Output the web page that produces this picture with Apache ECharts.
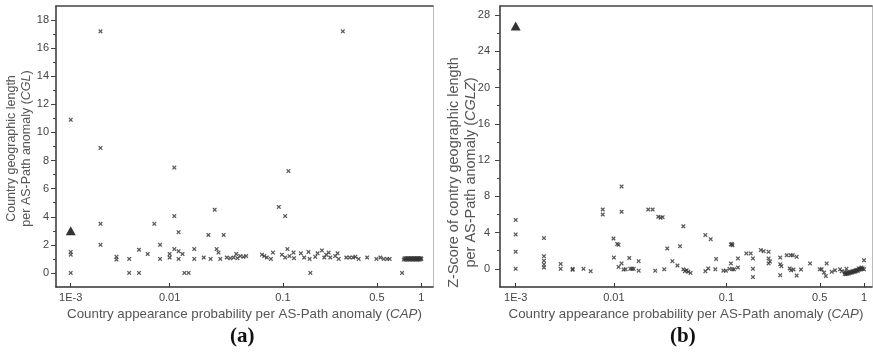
<!DOCTYPE html>
<html><head><meta charset="utf-8">
<script src="https://cdn.jsdelivr.net/npm/echarts@6/dist/echarts.min.js"></script>
<style>html,body{margin:0;padding:0;background:#fff}#c{width:873px;height:353px}</style>
</head><body><div id="c"></div>
<script>
// ---- data ----
const capTicks = [0.001, 0.01, 0.1, 0.5, 1];
const capTickLabels = ['1E-3', '0.01', '0.1', '0.5', '1'];
const cglTicks = [0, 2, 4, 6, 8, 10, 12, 14, 16, 18];
const cglMinor = [1, 3, 5, 7, 9, 11, 13, 15, 17];
const cglzTicks = [0, 4, 8, 12, 16, 20, 24, 28];
const cglzMinor = [2, 6, 10, 14, 18, 22, 26];

// (a) CAP vs CGL
const cglCross = [
  [0.001,10.9],[0.001,1.3],[0.001,1.5],[0.001,0],
  [0.002,17.2],[0.002,8.9],[0.002,3.5],[0.002,2.0],
  [0.0029,1.15],[0.0029,0.95],
  [0.0039,1.0],[0.0039,0],
  [0.0049,1.65],[0.0049,0],
  [0.006,1.35],[0.007,3.5],
  [0.008,2.0],[0.008,1.0],
  [0.01,1.35],[0.01,1.1],
  [0.011,7.5],[0.011,4.05],[0.011,1.7],
  [0.012,2.9],[0.012,1.55],[0.012,1.0],
  [0.013,1.35],[0.0135,0],[0.0147,0],
  [0.0165,1.7],[0.0165,1.0],
  [0.02,1.1],[0.022,2.7],[0.023,1.0],
  [0.025,4.5],[0.026,1.7],[0.027,1.45],[0.028,1.0],
  [0.03,2.7],[0.032,1.1],
  [0.0343,1.05],[0.0367,1.1],[0.0387,1.35],[0.0397,1.05],[0.042,1.2],[0.0449,1.15],[0.0474,1.2],
  [0.0653,1.3],[0.0685,1.2],[0.0722,1.1],[0.0784,1.0],[0.0817,1.45],
  [0.092,4.7],[0.098,1.3],[0.104,4.05],[0.104,1.1],[0.108,1.7],[0.11,7.25],[0.112,1.2],[0.12,1.45],[0.121,1.05],
  [0.136,1.4],[0.144,1.1],[0.155,1.5],[0.158,1.0],[0.16,0],
  [0.174,1.15],[0.181,1.4],
  [0.195,1.6],[0.203,1.1],[0.21,1.3],[0.219,1.45],[0.225,1.1],
  [0.245,1.2],[0.255,1.4],[0.26,1.0],
  [0.279,17.2],
  [0.296,1.1],[0.314,1.1],[0.333,1.1],[0.346,1.15],[0.366,1.0],
  [0.423,1.1],
  [0.496,1.0],[0.528,1.1],[0.556,1.0],[0.586,1.0],[0.61,1.0],
  [0.74,0],
  [0.76,0.95],[0.77,1.05],[0.78,0.95],[0.79,1.05],[0.8,0.95],[0.81,1.05],[0.82,0.95],[0.83,1.05],
  [0.84,0.95],[0.85,1.05],[0.86,0.95],[0.87,1.05],[0.88,0.95],[0.89,1.05],[0.9,0.95],[0.91,1.05],
  [0.92,0.95],[0.93,1.05],[0.94,0.95],[0.95,1.05],[0.96,0.95],[0.97,1.05],[0.98,0.95],[0.99,1.05],[1.0,1.0]
];
const cglTriangle = [[0.001, 3.0]];

// (b) CAP vs CGLZ
const cglzCross = [
  [0.001,5.4],[0.001,3.8],[0.001,1.9],[0.001,0],
  [0.00194,3.4],[0.00194,1.4],[0.00194,0.9],[0.00194,0.5],[0.00194,0.15],
  [0.00287,0.55],[0.00287,0],
  [0.0038,0],[0.0038,-0.1],
  [0.0049,0],[0.0058,-0.25],
  [0.0077,6.55],[0.0077,6.0],
  [0.0099,3.35],[0.01,1.25],
  [0.0107,2.75],[0.011,2.65],[0.011,0.22],
  [0.0117,9.1],[0.0117,6.3],[0.0117,0.6],
  [0.0122,-0.08],[0.0127,-0.05],
  [0.0137,1.2],[0.014,0],[0.0145,0],[0.015,0],
  [0.0166,0.85],[0.0166,-0.2],
  [0.0202,6.55],[0.0221,6.55],
  [0.0233,-0.2],
  [0.0248,5.75],[0.026,5.65],[0.0271,5.7],
  [0.028,-0.05],[0.0298,2.25],[0.0331,0.85],[0.0367,0.37],[0.0387,2.5],
  [0.0414,4.7],[0.0414,-0.05],[0.0428,-0.25],[0.0443,-0.15],[0.0458,-0.33],[0.048,-0.45],
  [0.065,3.73],[0.0725,3.28],[0.065,-0.25],[0.069,0.04],
  [0.0797,-0.05],[0.081,1.1],
  [0.094,-0.2],[0.099,-0.2],[0.1055,0],
  [0.108,2.7],[0.11,2.75],[0.111,2.6],[0.108,0.6],[0.111,-0.05],[0.114,-0.05],
  [0.122,1.15],[0.122,0.15],
  [0.141,1.7],[0.152,1.7],
  [0.158,1.15],[0.158,0],[0.158,-0.9],
  [0.181,2.07],[0.19,1.95],[0.207,1.88],
  [0.207,1.15],[0.207,0.6],[0.212,0.8],
  [0.253,1.25],[0.253,0.5],[0.258,0.3],[0.253,-0.7],
  [0.283,1.5],[0.303,1.5],[0.314,1.5],
  [0.298,0.05],[0.305,-0.15],[0.318,-0.07],
  [0.336,1.33],[0.336,-0.74],
  [0.362,-0.07],[0.423,0.6],
  [0.5,-0.05],[0.515,-0.04],[0.535,-0.4],[0.557,0.6],[0.55,-0.8],
  [0.603,-0.33],[0.635,-0.15],[0.687,-0.05],[0.706,-0.25],
  [0.74,-0.55],[0.74,-0.35],[0.75,-0.6],[0.76,-0.45],[0.76,0],[0.77,-0.55],[0.78,-0.4],[0.79,-0.5],
  [0.8,-0.35],[0.81,-0.45],[0.82,-0.3],[0.83,-0.4],[0.84,-0.25],[0.85,-0.35],[0.86,-0.2],
  [0.87,-0.3],[0.88,-0.15],[0.89,-0.25],[0.9,-0.1],[0.91,-0.2],[0.92,0.05],[0.93,-0.1],
  [0.94,0],[0.95,-0.05],[0.96,0.15],[0.97,0],[0.98,0.05],[1.0,-0.05],[1.0,0.95]
];
const cglzTriangle = [[0.001, 26.8]];

// ---- CAP axis calibration (the printed axis is not a pure log scale) ----
const calLog = [-3, -2, -1, Math.log10(0.5), 0];
const calPos = [0, 0.282, 0.605, 0.873, 1];
function capPos(v) {
  const l = Math.log10(v);
  for (let i = 0; i < calLog.length - 1; i++) {
    if (l <= calLog[i + 1] || i === calLog.length - 2) {
      return calPos[i] + (l - calLog[i]) / (calLog[i + 1] - calLog[i]) * (calPos[i + 1] - calPos[i]);
    }
  }
}
const capTickPos = capTicks.map(capPos);
function capLabel(n) {
  for (let i = 0; i < capTickPos.length; i++) if (Math.abs(capTickPos[i] - n) < 1e-6) return capTickLabels[i];
  return '';
}

const FONT = 'Liberation Sans, Arial, sans-serif';
const crossPath = 'path://M0,2L2,0L5,3L8,0L10,2L7,5L10,8L8,10L5,7L2,10L0,8L3,5Z';
const xName = '{n|Country appearance probability per AS-Path anomaly (}{i|CAP}{n|)}';
function richOf(size) {
  return {
    n: { fontFamily: FONT, fontSize: size, color: '#555', lineHeight: size + 2 },
    i: { fontFamily: FONT, fontSize: size, color: '#555', fontStyle: 'italic', lineHeight: size + 2 }
  };
}

function xAxes(grid, min, max) {
  return [{
    gridIndex: grid, type: 'value', min: min, max: max, position: 'bottom',
    axisLine: { onZero: false, lineStyle: { color: '#333', width: 1.5 } },
    axisTick: { inside: true, length: 4, customValues: capTickPos, lineStyle: { color: '#333' } },
    axisLabel: { customValues: capTickPos, formatter: capLabel, color: '#444', fontSize: 11, fontFamily: FONT, margin: 5 },
    splitLine: { show: false },
    name: xName, nameLocation: 'middle', nameGap: 19, nameTextStyle: { rich: richOf(13.3) }
  }, {
    gridIndex: grid, type: 'value', min: min, max: max, position: 'top',
    axisLine: { onZero: false, lineStyle: { color: '#444', width: 1.5 } },
    axisTick: { show: false }, axisLabel: { show: false }, splitLine: { show: false }
  }];
}
function yAxes(grid, min, max, ticks, minor, name, gap, labelMargin, nameSize, namePad, moveOverlap) {
  return [{
    gridIndex: grid, type: 'value', min: min, max: max, position: 'left',
    axisLine: { show: true, onZero: false, lineStyle: { color: '#333', width: 1.5 } },
    axisTick: { show: true, length: 5, customValues: ticks, lineStyle: { color: '#444' } },
    axisLabel: { customValues: ticks, color: '#444', fontSize: 11, fontFamily: FONT, margin: labelMargin },
    splitLine: { show: false },
    name: name, nameLocation: 'middle', nameGap: gap, nameMoveOverlap: moveOverlap,
    nameTextStyle: { rich: richOf(nameSize), align: 'center', padding: namePad }
  }, {
    gridIndex: grid, type: 'value', min: min, max: max, position: 'left',
    axisLine: { show: false, onZero: false },
    axisTick: { show: true, length: 3, customValues: minor, lineStyle: { color: '#444' } },
    axisLabel: { show: false }, splitLine: { show: false }
  }, {
    gridIndex: grid, type: 'value', min: min, max: max, position: 'right',
    axisLine: { show: true, onZero: false, lineStyle: { color: '#bbb', width: 1 } },
    axisTick: { show: false }, axisLabel: { show: false }, splitLine: { show: false }
  }];
}

const chart = echarts.init(document.getElementById('c'), null, { renderer: 'canvas' });
chart.setOption({
  animation: false,
  backgroundColor: '#fff',
  grid: [
    { left: 56, top: 6, width: 377, height: 281 },
    { left: 500, top: 6, width: 372, height: 281 }
  ],
  xAxis: [].concat(xAxes(0, -0.042, 1.033), xAxes(1, -0.045, 1.023)),
  yAxis: [].concat(
    yAxes(0, -1, 19, cglTicks, cglMinor,
      '{n|Country geographic length}\n{n|per AS-Path anomaly (}{i|CGL}{n|)}', 22, 7, 12.5, [0, 4, 0, 0], true),
    yAxes(1, -2, 29, cglzTicks, cglzMinor,
      '{n|Z-Score of contry geographic length}\n{n|per AS-Path anomaly (}{i|CGLZ}{n|)}', 21, 10, 14.5, [0, 52, 0, 0], false)
  ),
  series: [
    { type: 'scatter', xAxisIndex: 0, yAxisIndex: 0, data: cglCross.map(d => [capPos(d[0]), d[1]]),
      symbol: crossPath, symbolSize: 4.5, itemStyle: { color: '#333' } },
    { type: 'scatter', xAxisIndex: 0, yAxisIndex: 0, data: cglTriangle.map(d => [capPos(d[0]), d[1]]),
      symbol: 'triangle', symbolSize: [10, 9], itemStyle: { color: '#000' } },
    { type: 'scatter', xAxisIndex: 2, yAxisIndex: 3, data: cglzCross.map(d => [capPos(d[0]), d[1]]),
      symbol: crossPath, symbolSize: 4.5, itemStyle: { color: '#333' } },
    { type: 'scatter', xAxisIndex: 2, yAxisIndex: 3, data: cglzTriangle.map(d => [capPos(d[0]), d[1]]),
      symbol: 'triangle', symbolSize: [10, 9], itemStyle: { color: '#000' } }
  ],
  graphic: [
    { type: 'text', left: 230, top: 326, style: { text: '(a)', font: 'bold 21px "Liberation Serif", "Times New Roman", serif', fill: '#111' } },
    { type: 'text', left: 670, top: 326, style: { text: '(b)', font: 'bold 21px "Liberation Serif", "Times New Roman", serif', fill: '#111' } }
  ]
});
</script>
</body></html>
